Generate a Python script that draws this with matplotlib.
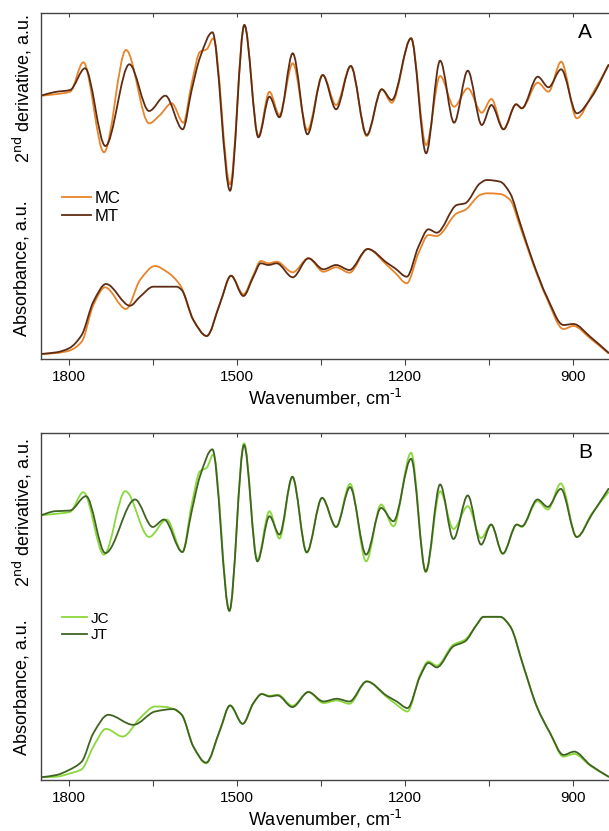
import numpy as np
import matplotlib
matplotlib.use("Agg")
import matplotlib.pyplot as plt
from matplotlib.path import Path
from matplotlib.patches import PathPatch
from matplotlib.lines import Line2D

plt.rcParams['font.family'] = ['Liberation Sans', 'DejaVu Sans']

# ---- Panel A: 2nd derivative (a.u.) ----
wn_mt_d = [1850, 1825, 1798, 1771.4, 1735.1, 1692.2, 1657.1, 1628, 1597, 1581, 1566, 1544,
           1512.5, 1486.9, 1461.9, 1442.2, 1424.4, 1400.6, 1374.4, 1347, 1323.2, 1297,
           1268.5, 1241.7, 1223.8, 1189.3, 1162.5, 1137.5, 1112.5, 1088.1, 1063.1, 1045.9,
           1024.4, 1001.8, 991.7, 963.1, 944, 921.4, 893.5, 866.7, 836.9]
mt_d = [0.3, 4, 6, 27.7, -50, 31.7, -15, 0.3, -33.3, 6, 38.7, 63.7,
        -94.7, 71, -41.3, -0.7, -21.3, 42.7, -38.3, 21, -13.3, 30,
        -39, 6.7, -4, 57.7, -57.3, 35.3, -26.7, 25.3, -29, -9,
        -33.3, -8.3, -12.3, 19.3, 8.7, 26.7, -17.3, -0.7, 31]

wn_mc_d = [1850, 1825, 1798, 1774.4, 1737.5, 1698.2, 1657.1, 1637.5, 1616.7, 1595.8, 1581, 1566,
           1554.2, 1542.3, 1512.5, 1486.9, 1461.9, 1442.2, 1424.4, 1400.6, 1374.4, 1347, 1323.2,
           1297, 1268.5, 1241.7, 1223.8, 1189.3, 1162.5, 1137.5, 1112.5, 1088.1, 1063.1, 1045.9,
           1024.4, 1001.8, 991.7, 963.1, 944, 921.4, 893.5, 866.7, 836.9]
mc_d = [0.3, 1.7, 4.3, 33.7, -56.3, 46, -27.3, -19, -7.3, -26.7, 12.7, 44.3,
        46.7, 57.7, -88.3, 71, -40, 4.3, -19, 32.7, -34, 21, -9,
        30, -40, 6.7, -6.7, 57.7, -49, 20, -10.7, 7.7, -16.7, -3,
        -33.3, -8.3, -12.3, 13.3, 4.3, 34.3, -22.3, 1, 31]

# ---- Panel A: absorbance ----
wn_mt_a = [1850, 1822, 1800, 1777.4, 1756.5, 1733.9, 1691.1, 1673.2, 1649.4, 1607.7, 1598.8, 1578,
           1554.2, 1530.4, 1510.7, 1488.7, 1470.8, 1457.7, 1444, 1429.2, 1400.6, 1372.6, 1345.8,
           1323.2, 1299.4, 1266.7, 1232.7, 1217.9, 1197, 1176.2, 1158.3, 1143.5, 1107.7, 1092.9,
           1066.1, 1054.2, 1030.4, 1012.5, 994.6, 970.8, 947, 917.3, 899.4, 869.6, 836.9]
mt_a = [3, 4.7, 8.7, 22, 55.3, 73, 51.3, 60.3, 70.3, 70.3, 67, 37,
        21, 53.7, 81.3, 61, 80.3, 93.7, 92, 93.7, 79.7, 98.7, 87.7,
        92, 87, 108, 94.3, 88.7, 80.3, 110.3, 127.7, 124.3, 152, 153.7,
        173.7, 177, 175.3, 163.7, 133.7, 93.7, 60.3, 32, 33, 20.3, 4.3]

wn_mc_a = [1850, 1822, 1800, 1777.4, 1756.5, 1735.7, 1698.2, 1673.2, 1646.4, 1625.6, 1601.8, 1578,
           1554.2, 1530.4, 1510.7, 1488.7, 1470.8, 1457.7, 1444, 1429.2, 1400.6, 1372.6, 1345.8,
           1323.2, 1299.4, 1266.7, 1232.7, 1217.9, 1197, 1176.2, 1158.3, 1143.5, 1107.7, 1092.9,
           1066.1, 1054.2, 1030.4, 1012.5, 994.6, 970.8, 947, 917.3, 899.4, 869.6, 836.9]
mc_a = [3, 4, 6.3, 15.3, 52, 69.7, 48, 77, 91, 85.3, 72, 37,
        21, 53.7, 81.3, 62.7, 82, 96, 93.7, 95.3, 84.7, 98.7, 85.3,
        89.7, 84.3, 108, 92, 84.3, 73.7, 103.7, 122, 121, 143.7, 147,
        162, 163.7, 163, 157, 130.3, 92, 58.7, 28, 31, 18.7, 3.7]

# ---- Panel B: 2nd derivative ----
wn_jt_d = [1850, 1825, 1798.2, 1769.6, 1735.1, 1682.1, 1650.6, 1630.3, 1597.6, 1581, 1566.1, 1544,
           1513.7, 1487.5, 1463.7, 1442.2, 1424.4, 1401.2, 1375.6, 1348.2, 1323.2, 1298.2,
           1269.6, 1242.9, 1220.8, 1189.3, 1163.1, 1137.5, 1113.7, 1088.1, 1064.3, 1046.4,
           1025.6, 1000.6, 991.7, 963.7, 945.2, 922, 893.5, 866.7, 836.9]
jt_d = [0, 4, 4.7, 19, -37.7, 15.7, -11.7, -4.3, -36.7, 4, 39, 65.7,
        -95.3, 70, -46, -1, -19.3, 38.3, -37, 17.3, -11.7, 28,
        -39.3, 7.3, -6, 56.3, -56, 30.7, -23.7, 19.7, -29.3, -9.3,
        -38.3, -9.3, -11, 15.7, 8.3, 26.3, -21.7, 0.7, 26.3]

wn_jc_d = [1850, 1825, 1798.2, 1774.4, 1737.5, 1699.4, 1657.1, 1625.6, 1597.6, 1581, 1566.1, 1554.2,
           1542.3, 1513.7, 1487.5, 1463.7, 1442.2, 1424.4, 1401.2, 1375.6, 1348.2, 1323.2, 1298.2,
           1269.6, 1242.9, 1220.8, 1189.3, 1163.1, 1137.5, 1113.7, 1088.1, 1064.3, 1046.4,
           1025.6, 1000.6, 991.7, 963.7, 945.2, 922, 893.5, 866.7, 836.9]
jc_d = [0, 1.3, 3.3, 23, -39.3, 24, -21.7, -4.3, -36.7, 10.7, 44, 47.3,
        60.7, -95.3, 71.7, -44.3, 4, -23.3, 38.3, -37, 17.3, -11.7, 31.3,
        -46, 10.7, -11, 62.3, -56.7, 24, -13.7, 9, -22.7, -9.3,
        -38.3, -9.3, -11.7, 14, 5.7, 31.7, -21.7, 1.7, 23]

# ---- Panel B: absorbance ----
wn_jt_a = [1850, 1822, 1800, 1777.4, 1756.5, 1729.8, 1685.1, 1646.4, 1613.7, 1598.8, 1578, 1555.3,
           1530.4, 1512.5, 1489.9, 1470.8, 1455.9, 1442.2, 1427.4, 1401.2, 1372.6, 1345.8, 1322,
           1299.4, 1268.5, 1232.7, 1214.9, 1195.8, 1173.2, 1158.3, 1143.5, 1113.7, 1092.9, 1072,
           1060.1, 1030.4, 1012.5, 988.7, 964.9, 941.1, 917.3, 898.2, 869.6, 836.9]
jt_a = [0.7, 3, 8, 16.3, 44.7, 63, 53, 66.3, 68.7, 63, 31.3, 15.3,
        48, 72.3, 54, 74.7, 83.7, 81.3, 82.3, 70.7, 85.7, 76.3, 79,
        76.3, 96.3, 82, 76.3, 69.7, 101.3, 114.7, 110.3, 131.3, 136.3, 153,
        160.7, 160.7, 151.3, 111.3, 71.3, 44.7, 23, 26.3, 13, 1.3]

wn_jc_a = [1850, 1822, 1800, 1777.4, 1756.5, 1733.9, 1704.2, 1673.2, 1646.4, 1625.6, 1613.7, 1598.8,
           1578, 1555.3, 1530.4, 1512.5, 1489.9, 1470.8, 1455.9, 1442.2, 1427.4, 1401.2, 1372.6,
           1345.8, 1322, 1299.4, 1268.5, 1232.7, 1214.9, 1195.8, 1173.2, 1158.3, 1143.5, 1113.7,
           1092.9, 1072, 1060.1, 1030.4, 1012.5, 988.7, 964.9, 941.1, 917.3, 898.2, 869.6, 836.9]
jc_a = [0.7, 1.3, 4.3, 8.7, 31.3, 49, 41.3, 59.7, 71.3, 70.7, 68.7, 63,
        31.3, 14.7, 48, 72.3, 54, 74.7, 83.7, 82, 83, 72, 85.7,
        74.7, 77.3, 74, 96.3, 80.7, 73, 66.3, 103, 116.3, 112, 133,
        138, 153, 160.7, 160.7, 151.3, 111.3, 71.3, 44.7, 21.3, 24, 12.3, 1.3]

c_mc, c_mt = '#E8842A', '#5E2C14'
c_jc, c_jt = '#8AD83C', '#3F6421'


def smooth_path(x, y):
    # monotone cubic (Fritsch-Carlson) drawn as Bezier segments
    x = np.asarray(x, float)
    y = np.asarray(y, float)
    h = np.diff(x)
    dl = np.diff(y) / h
    m = np.zeros_like(y)
    m[0], m[-1] = dl[0], dl[-1]
    for k in range(1, len(y) - 1):
        if dl[k - 1] * dl[k] > 0:
            w1 = 2 * h[k] + h[k - 1]
            w2 = h[k] + 2 * h[k - 1]
            m[k] = (w1 + w2) / (w1 / dl[k - 1] + w2 / dl[k])
    verts = [(x[0], y[0])]
    codes = [Path.MOVETO]
    for k in range(len(x) - 1):
        verts += [(x[k] + h[k] / 3, y[k] + m[k] * h[k] / 3),
                  (x[k + 1] - h[k] / 3, y[k + 1] - m[k + 1] * h[k] / 3),
                  (x[k + 1], y[k + 1])]
        codes += [Path.CURVE4] * 3
    return Path(verts, codes)


def draw(ax, x, y, color, offset=0):
    p = smooth_path(x, np.asarray(y) + offset)
    ax.add_patch(PathPatch(p, facecolor='none', edgecolor=color, lw=1.3, capstyle='round'))


fig = plt.figure(figsize=(6.09, 8.31), dpi=100)
axA = fig.add_axes([41 / 609, (831 - 359) / 831, 568 / 609, 346 / 831])
axB = fig.add_axes([41 / 609, (831 - 780) / 831, 568 / 609, 347 / 831])

panels = [
    (axA, 'A', 261, [(wn_mc_d, mc_d, c_mc), (wn_mt_d, mt_d, c_mt)],
     [(wn_mc_a, mc_a, c_mc), (wn_mt_a, mt_a, c_mt)], ['MC', 'MT'], [c_mc, c_mt], 12, 1.75),
    (axB, 'B', 262, [(wn_jc_d, jc_d, c_jc), (wn_jt_d, jt_d, c_jt)],
     [(wn_jc_a, jc_a, c_jc), (wn_jt_a, jt_a, c_jt)], ['JC', 'JT'], [c_jc, c_jt], 11, 1.65),
]

for ax, letter, off, deriv, absb, names, cols, lfs, hl in panels:
    for x, y, c in deriv:
        draw(ax, x, y, c, off)
    for x, y, c in absb:
        draw(ax, x, y, c)
    ax.set_xlim(1850, 836)
    ax.set_ylim(-2, 344)
    ax.set_yticks([])
    for s in ['left', 'bottom', 'top']:
        ax.spines[s].set_color('#444444')
        ax.spines[s].set_linewidth(1.0)
    ax.spines['right'].set_visible(False)
    ax.set_xticks([1800, 1500, 1200, 900])
    ax.set_xticks([1650, 1350, 1050], minor=True)
    ax.tick_params(axis='x', which='both', direction='out', length=4, width=0.8,
                   color='#444444', labelsize=11, pad=4)
    top = ax.secondary_xaxis('top')
    top.set_xticks(np.arange(900, 1801, 150))
    top.tick_params(direction='in', length=3, width=0.8, color='#444444', labeltop=False)
    top.spines['top'].set_visible(False)
    ax.set_xlabel('Wavenumber, cm$^{\\text{-1}}$', fontsize=13, labelpad=2)
    ax.text(0.958, 0.945, letter, transform=ax.transAxes, fontsize=15,
            ha='center', va='center')
    handles = [Line2D([], [], color=c, lw=1.3) for c in cols]
    ax.legend(handles, names, loc='upper left', bbox_to_anchor=(0.037, 0.485),
              frameon=False, fontsize=lfs, handlelength=hl, handletextpad=0.2,
              labelspacing=0.15, borderpad=0, borderaxespad=0)

fig.text(22 / 609, (831 - 88) / 831, '2$^{\\rm nd}$ derivative, a.u.', rotation=90,
         ha='center', va='center', fontsize=13)
fig.text(22 / 609, (831 - 268) / 831, 'Absorbance, a.u.', rotation=90,
         ha='center', va='center', fontsize=13)
fig.text(22 / 609, (831 - 512) / 831, '2$^{\\rm nd}$ derivative, a.u.', rotation=90,
         ha='center', va='center', fontsize=13)
fig.text(22 / 609, (831 - 687) / 831, 'Absorbance, a.u.', rotation=90,
         ha='center', va='center', fontsize=13)

fig.savefig('out.png', dpi=100)
